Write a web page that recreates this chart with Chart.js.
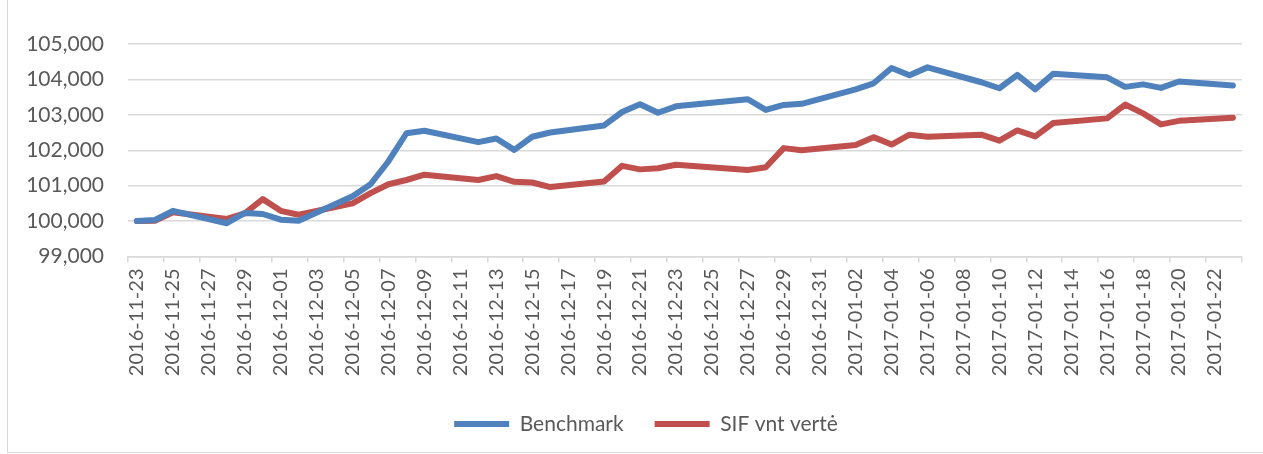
<!DOCTYPE html>
<html lang="lt">
<head>
  <meta charset="UTF-8">
  <title>Benchmark ir SIF vnt vertė</title>
  <script src="https://cdn.jsdelivr.net/npm/chart.js"></script>
  <style>
    html, body { margin: 0; padding: 0; background: #fff; }
    #wrap { position: relative; width: 1263px; height: 454px; overflow: hidden; }
    #frame {
      position: absolute; left: 7px; top: -1px; width: 1262px; height: 452px;
      border: 1px solid #d9d9d9; pointer-events: none;
    }
  </style>
</head>
<body>
<div id="wrap">
  <canvas id="chart" width="1263" height="454"></canvas>
  <div id="frame"></div>
</div>
<script>
  // kiekviena diena, savaitgaliai ir šventės - null
  const dates = [
    '2016-11-23','2016-11-24','2016-11-25','2016-11-26','2016-11-27','2016-11-28','2016-11-29','2016-11-30',
    '2016-12-01','2016-12-02','2016-12-03','2016-12-04','2016-12-05','2016-12-06','2016-12-07','2016-12-08',
    '2016-12-09','2016-12-10','2016-12-11','2016-12-12','2016-12-13','2016-12-14','2016-12-15','2016-12-16',
    '2016-12-17','2016-12-18','2016-12-19','2016-12-20','2016-12-21','2016-12-22','2016-12-23','2016-12-24',
    '2016-12-25','2016-12-26','2016-12-27','2016-12-28','2016-12-29','2016-12-30','2016-12-31','2017-01-01',
    '2017-01-02','2017-01-03','2017-01-04','2017-01-05','2017-01-06','2017-01-07','2017-01-08','2017-01-09',
    '2017-01-10','2017-01-11','2017-01-12','2017-01-13','2017-01-14','2017-01-15','2017-01-16','2017-01-17',
    '2017-01-18','2017-01-19','2017-01-20','2017-01-21','2017-01-22','2017-01-23'
  ];
  const benchmark = [
    100000, 100030, 100290, null, null, 99940, 100230, 100200,
    100040, 100010, null, null, 100700, 101040, 101690, 102480,
    102550, null, null, 102230, 102330, 102010, 102380, 102500,
    null, null, 102700, 103080, 103300, 103060, 103240, null,
    null, null, 103440, 103140, 103280, 103310, null, null,
    103720, 103890, 104320, 104120, 104340, null, null, 103920,
    103750, 104130, 103720, 104160, null, null, 104060, 103790,
    103860, 103760, 103940, null, null, 103830
  ];
  const sifValue = [
    100000, 100010, 100250, null, null, 100060, 100220, 100620,
    100290, 100180, null, null, 100500, 100790, 101040, 101160,
    101310, null, null, 101160, 101270, 101110, 101090, 100960,
    null, null, 101120, 101560, 101460, 101490, 101590, null,
    null, null, 101440, 101520, 102060, 102000, null, null,
    102150, 102370, 102160, 102440, 102380, null, null, 102440,
    102270, 102560, 102390, 102770, null, null, 102900, 103290,
    103040, 102730, 102830, null, null, 102920
  ];
  const yMin = 99000, yMax = 105000, yStep = 1000;

  const textColor = '#595959';
  const gridColor = '#d9d9d9';
  const fontFamily = 'Lato, "Liberation Sans", sans-serif';

  function lineSet(label, data, color) {
    return {
      label: label, data: data,
      borderColor: color, backgroundColor: color,
      borderWidth: 6, borderJoinStyle: 'round', borderCapStyle: 'round',
      pointRadius: 0, pointHoverRadius: 0, pointStyle: 'line',
      tension: 0, spanGaps: true, fill: false
    };
  }

  // legendą pastumti dešinėn, kad būtų centre kaip originale
  const legendShift = {
    id: 'legendShift',
    afterLayout(chart) {
      chart.legend.left += 21;
      chart.legend.right += 21;
    }
  };

  new Chart(document.getElementById('chart').getContext('2d'), {
    type: 'line',
    data: {
      labels: dates,
      datasets: [
        lineSet('Benchmark', benchmark, '#4f81bd'),
        lineSet('SIF vnt vertė', sifValue, '#c0504d')
      ]
    },
    plugins: [legendShift],
    options: {
      responsive: false,
      animation: false,
      layout: { padding: { left: 0, right: 13, top: 44, bottom: 9.5 } },
      plugins: {
        tooltip: { enabled: false },
        legend: {
          position: 'bottom',
          labels: {
            usePointStyle: true, pointStyleWidth: 55, boxHeight: 6,
            color: textColor, padding: 31,
            font: { family: fontFamily, size: 21 }
          }
        }
      },
      scales: {
        x: {
          offset: true,
          grid: {
            offset: true, drawOnChartArea: false, tickLength: 6, lineWidth: 1.5,
            color: c => (c.index === undefined || c.index % 2 === 0) ? gridColor : 'rgba(0,0,0,0)'
          },
          border: { color: gridColor, width: 1.5 },
          ticks: {
            autoSkip: false, maxRotation: 90, minRotation: 90, padding: 6,
            color: textColor, font: { family: fontFamily, size: 20 },
            callback: function (v, i) { return i % 2 === 0 ? this.getLabelForValue(v) : ''; }
          },
          afterFit: s => { s.height = 126; }
        },
        y: {
          min: yMin, max: yMax,
          grid: { color: gridColor, lineWidth: 1.5, drawTicks: false },
          border: { display: false },
          ticks: {
            stepSize: yStep, padding: 24, color: textColor,
            font: { family: fontFamily, size: 21 },
            callback: v => v.toLocaleString('en-US')
          },
          afterFit: s => { s.width = 128; }
        }
      }
    }
  });
</script>
</body>
</html>
